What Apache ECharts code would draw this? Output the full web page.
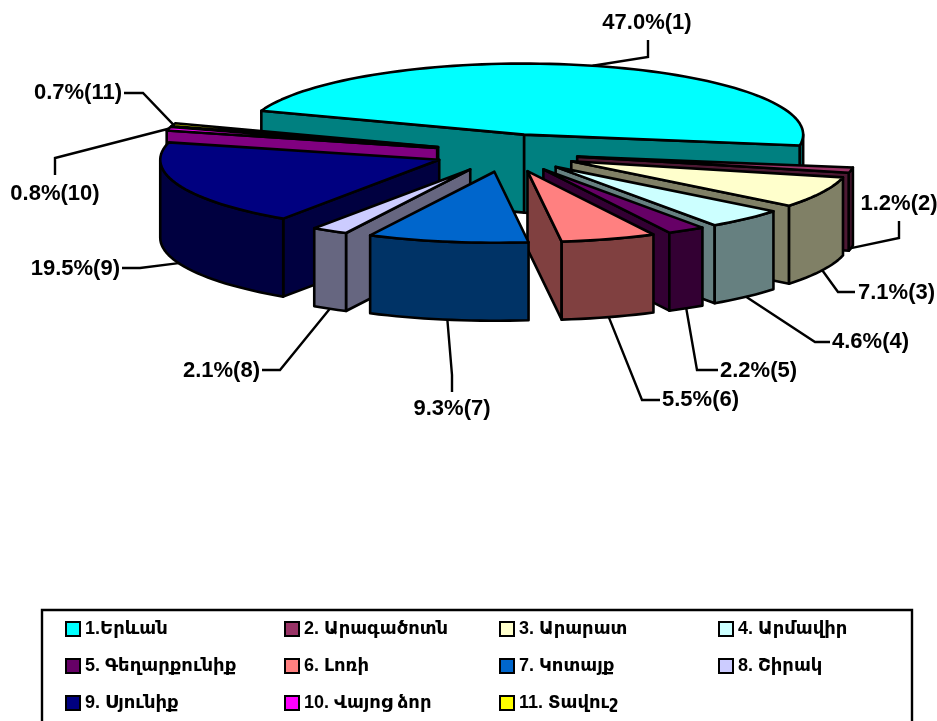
<!DOCTYPE html>
<html><head><meta charset="utf-8">
<style>html,body{margin:0;padding:0;background:#fff;overflow:hidden}#c{width:937px;height:721px}</style>
<script src="https://cdn.jsdelivr.net/npm/echarts@6/dist/echarts.min.js"></script>
</head><body><div id="c"></div>
<script>
const categories = ['1.Երևան','2. Արագածոտն','3. Արարատ','4. Արմավիր','5. Գեղարքունիք','6. Լոռի','7. Կոտայք','8. Շիրակ','9. Սյունիք','10. Վայոց ձոր','11. Տավուշ'];
const shares = [47.0,1.2,7.1,4.6,2.2,5.5,9.3,2.1,19.5,0.8,0.7];
const topColors = ['#00FFFF','#993366','#FFFFCC','#CCFFFF','#660066','#FF8080','#0066CC','#CCCCFF','#000080','#FF00FF','#FFFF00'];
const sideColors = ['#008080','#4D1933','#808066','#668080','#330033','#804040','#003366','#666680','#000040','#800080','#808000'];
const paintOrder = [0,10,9,1,2,8,3,7,4,5,6];
const legendColumns = [[0,4,8],[1,5,9],[2,6,10],[3,7]];

// pie projection
const P = {cx:506.5, cy:153, a:279, b:71, depth:78, exA:72, exB:19, start:-70.4};
// leader elbow and label end point for each slice, with label anchoring
const leaders = [
 {elbow:[648,57],end:[648,40],tx:647,ty:23,al:'center'},
 {elbow:[899,238],end:[899,221],tx:899,ty:204,al:'center'},
 {elbow:[838,292],end:[855,292],tx:858,ty:293,al:'left'},
 {elbow:[815,342],end:[830,342],tx:832,ty:342,al:'left'},
 {elbow:[697,370],end:[718,370],tx:720,ty:371,al:'left'},
 {elbow:[642,400],end:[660,400],tx:662,ty:400,al:'left'},
 {elbow:[452,375],end:[452,392],tx:452,ty:409,al:'center'},
 {elbow:[280,370],end:[262,370],tx:260,ty:371,al:'right'},
 {elbow:[140,268],end:[122,268],tx:120,ty:269,al:'right'},
 {elbow:[55,158],end:[55,175],tx:55,ty:194,al:'center'},
 {elbow:[143,93],end:[124,93],tx:122,ty:93,al:'right'}
];
const total = shares.reduce((s,v)=>s+v,0);
const rad = d => d*Math.PI/180;
function sliceAngles(i){
  let s = P.start;
  for(let k=0;k<i;k++) s += shares[k]/total*360;
  return [s, s + shares[i]/total*360];
}
function renderSlice(params, api){
  const i = api.value(0), [s,e] = sliceAngles(i), m=(s+e)/2;
  const ax = P.cx + P.exA*Math.sin(rad(m)), ay = P.cy - P.exB*Math.cos(rad(m));
  const rim = t => [ax + P.a*Math.sin(rad(t)), ay - P.b*Math.cos(rad(t))];
  const down = p => [p[0], p[1]+P.depth];
  const arc = (f,t) => { const n=Math.max(2,Math.ceil(Math.abs(t-f)/2)), o=[]; for(let k=0;k<=n;k++) o.push(rim(f+(t-f)*k/n)); return o; };
  const apex=[ax,ay];
  const stroke={stroke:'#000',lineWidth:2.6,lineJoin:'round'};
  const ch=[];
  const poly=(pts,fill)=>ch.push({type:'polygon',shape:{points:pts},style:Object.assign({fill},stroke)});
  const side=sideColors[i];
  const wall=t=>{const r=rim(t);poly([apex,r,down(r),down(apex)],side);};
  if(Math.sin(rad(s))<0) wall(s);
  if(Math.sin(rad(e))>0) wall(e);
  const f=Math.max(s,90), t=Math.min(e,270);
  if(t>f){const up=arc(f,t);poly(up.concat(up.map(down).reverse()),side);}
  poly([apex].concat(arc(s,e)),topColors[i]);
  const L=leaders[i], mr=rim(m);
  const anchor=Math.cos(rad(m))<0?down(mr):mr;
  ch.push({type:'polyline',shape:{points:[anchor,L.elbow,L.end]},style:{stroke:'#000',lineWidth:2.4,fill:null}});
  ch.push({type:'text',style:{x:L.tx,y:L.ty,text:shares[i].toFixed(1)+'%('+(i+1)+')',font:'bold 22px "Liberation Sans",Arial,sans-serif',fill:'#000',align:L.al,verticalAlign:'middle'}});
  return {type:'group',children:ch};
}
const series = categories.map((name,i)=>({
  type:'custom',name,coordinateSystem:'none',silent:true,animation:false,
  z:2+paintOrder.indexOf(i),
  itemStyle:{color:topColors[i]},
  data:[[i,shares[i]]],renderItem:renderSlice
}));
const legendLeft=[65,284,499,718];
const legend = legendColumns.map((col,c)=>({
  orient:'vertical',left:legendLeft[c],top:620,height:240,padding:0,icon:'rect',itemWidth:14,itemHeight:14,itemGap:19,
  selectedMode:false,data:col.map(i=>categories[i]),
  itemStyle:{borderColor:'#000',borderWidth:2},
  textStyle:{color:'#000',fontFamily:'"Liberation Sans","DejaVu Sans",sans-serif',fontWeight:'bold',fontSize:18}
}));
const chart = echarts.init(document.getElementById('c'),null,{renderer:'canvas'});
chart.setOption({
  animation:false,backgroundColor:'#fff',legend,series,
  graphic:[{type:'rect',z:0,shape:{x:42,y:610,width:870,height:130},style:{fill:'#fff',stroke:'#000',lineWidth:2.4}}]
});
</script></body></html>
